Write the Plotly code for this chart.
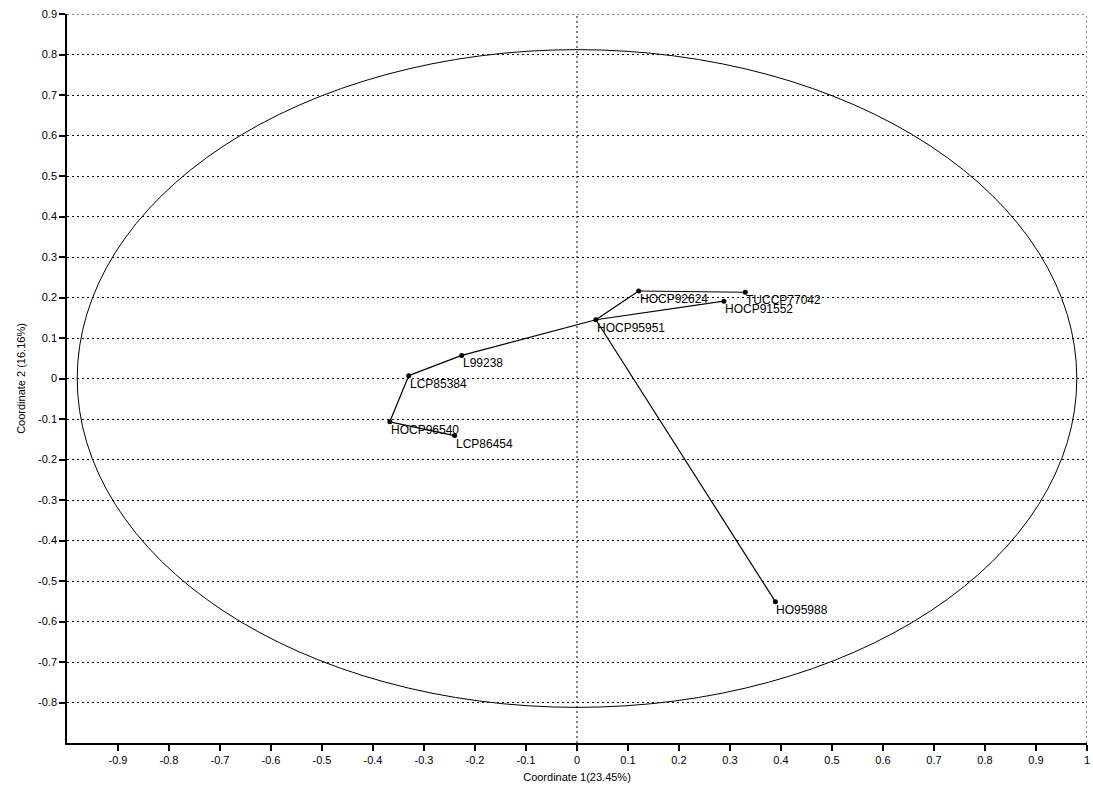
import plotly.graph_objects as go

# Principal coordinates of each clone
names = ["HOCP92624", "TUCCP77042", "HOCP91552", "HOCP95951", "L99238",
         "LCP85384", "HOCP96540", "LCP86454", "HO95988"]
coord1 = [0.121, 0.330, 0.288, 0.037, -0.226, -0.330, -0.367, -0.240, 0.389]
coord2 = [0.216, 0.213, 0.191, 0.145, 0.057, 0.007, -0.107, -0.141, -0.551]

# Minimum spanning tree edges (pairs of clone names)
edges = [("HOCP92624", "TUCCP77042"), ("HOCP92624", "HOCP95951"),
         ("HOCP95951", "HOCP91552"), ("HOCP95951", "L99238"),
         ("HOCP95951", "HO95988"), ("L99238", "LCP85384"),
         ("LCP85384", "HOCP96540"), ("HOCP96540", "LCP86454")]

# 95% ellipse semi-axes
ell_rx, ell_ry = 0.98, 0.812

x_ticks = [-0.9, -0.8, -0.7, -0.6, -0.5, -0.4, -0.3, -0.2, -0.1, 0,
           0.1, 0.2, 0.3, 0.4, 0.5, 0.6, 0.7, 0.8, 0.9, 1]
y_ticks = [-0.8, -0.7, -0.6, -0.5, -0.4, -0.3, -0.2, -0.1, 0,
           0.1, 0.2, 0.3, 0.4, 0.5, 0.6, 0.7, 0.8, 0.9]

pos = {n: (x, y) for n, x, y in zip(names, coord1, coord2)}
ex, ey = [], []
for a, b in edges:
    ex += [pos[a][0], pos[b][0], None]
    ey += [pos[a][1], pos[b][1], None]

FONT = "Liberation Sans, Arial, sans-serif"
DOT = "2px,3px"

fig = go.Figure()
fig.add_trace(go.Scatter(x=ex, y=ey, mode="lines",
                         line=dict(color="black", width=1.2),
                         hoverinfo="skip", showlegend=False))
fig.add_trace(go.Scatter(x=coord1, y=coord2, mode="markers",
                         marker=dict(color="black", size=5),
                         text=names, hoverinfo="text", showlegend=False))

# Clone labels just below and right of each point
for n, x, y in zip(names, coord1, coord2):
    fig.add_annotation(x=x, y=y, text=n, showarrow=False,
                       xanchor="left", yanchor="middle", xshift=-1, yshift=-8,
                       font=dict(family=FONT, size=12, color="black"))

# Ellipse
fig.add_shape(type="circle", xref="x", yref="y",
              x0=-ell_rx, x1=ell_rx, y0=-ell_ry, y1=ell_ry,
              line=dict(color="black", width=1), layer="below")

# Vertical dotted reference lines at 0 and at the right edge
for xv in [0, 1]:
    fig.add_shape(type="line", xref="x", yref="paper", x0=xv, x1=xv, y0=0, y1=1,
                  line=dict(color="black", width=1, dash=DOT), layer="below")
# Top dotted edge
fig.add_shape(type="line", xref="paper", yref="y", x0=0, x1=1, y0=0.9, y1=0.9,
              line=dict(color="black", width=1, dash=DOT), layer="below")

fig.update_xaxes(range=[-1, 1], tickvals=x_ticks,
                 ticktext=[f"{v:g}" for v in x_ticks],
                 ticklabeloverflow="allow",
                 showgrid=False, zeroline=False,
                 showline=True, linecolor="black", linewidth=1.5,
                 ticks="outside", ticklen=6, tickwidth=1.5, tickcolor="black",
                 tickfont=dict(family=FONT, size=11, color="black"),
                 title=dict(text="Coordinate 1(23.45%)", standoff=8,
                            font=dict(family=FONT, size=11, color="black")))
fig.update_yaxes(range=[-0.9, 0.9], tickvals=y_ticks,
                 ticktext=[f"{v:g}" for v in y_ticks],
                 showgrid=True, gridcolor="black", gridwidth=1, griddash=DOT,
                 zeroline=False,
                 showline=True, linecolor="black", linewidth=1.5,
                 ticks="outside", ticklen=6, tickwidth=1.5, tickcolor="black",
                 tickfont=dict(family=FONT, size=11, color="black"),
                 title=dict(text="Coordinate 2 (16.16%)", standoff=10,
                            font=dict(family=FONT, size=11, color="black")))

fig.update_layout(width=1093, height=794,
                  margin=dict(l=67, r=3, t=14, b=51),
                  plot_bgcolor="white", paper_bgcolor="white")

fig.write_html("out.html")
